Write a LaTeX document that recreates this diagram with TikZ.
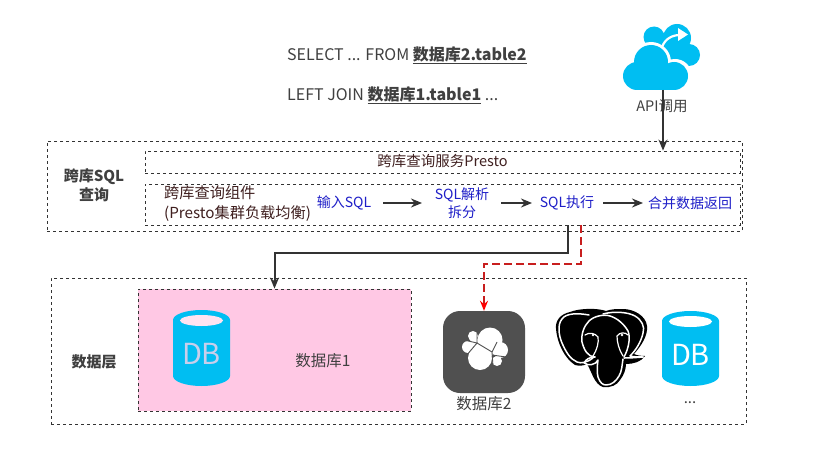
\documentclass[tikz,border=0pt]{standalone}
\usepackage{fontspec}
\setmainfont{Noto Sans CJK SC}
\usetikzlibrary{arrows.meta}
\definecolor{cloudblue}{RGB}{0,190,242}
\definecolor{textgrey}{RGB}{64,64,64}
\definecolor{linegrey}{RGB}{51,51,51}
\definecolor{stepblue}{RGB}{30,30,200}
\definecolor{servbrown}{RGB}{64,32,32}
\definecolor{pinkfill}{RGB}{255,200,228}
\definecolor{iconfill}{RGB}{80,80,80}
\definecolor{flowred}{RGB}{200,30,30}
\tikzset{
  dashbox/.style={draw=black!80,dashed,line width=0.8pt,inner sep=0pt},
  lab/.style={font=\fontsize{15}{18}\selectfont,text=textgrey,inner sep=0pt},
  capt/.style={font=\fontsize{15}{19}\selectfont\bfseries,text=textgrey,align=center,inner sep=0pt},
  steplab/.style={font=\fontsize{14}{18}\selectfont,text=stepblue,align=center,inner sep=0pt},
  sqltext/.style={font=\fontsize{16}{19}\selectfont,text=textgrey,anchor=west,inner sep=0pt},
  flow/.style={draw=linegrey,line width=2pt,-{Stealth[length=11pt,width=9pt]}},
  flowdash/.style={draw=flowred,line width=2.2pt,dash pattern=on 8pt off 4pt,-{Stealth[length=10pt,width=8pt,color=red]}},
  elephline/.style={white,line width=1.5pt,line join=round,line cap=round},
  dbtext/.style={font=\fontsize{29}{30}\selectfont,inner sep=0pt},
}
\begin{document}
\begin{tikzpicture}[x=1pt,y=-1pt]
  \useasboundingbox[fill=white] (0,0) rectangle (813,468);
  % query text
  \node[sqltext] (sqlfrom) at (287,55) {SELECT ... FROM \textbf{\underline{数据库2.table2}}};
  \node[sqltext] (sqljoin) at (287,95) {LEFT JOIN \textbf{\underline{数据库1.table1}} ...};
  % api cloud
  \fill[cloudblue] (654,37) circle (10.5);
  \fill[cloudblue] (677,38) circle (14);
  \fill[cloudblue] (689,55) circle (11);
  \fill[cloudblue] (670,50) circle (14);
  \fill[white] (638,76) circle (17);
  \fill[white] (651,62) circle (20);
  \fill[white] (675,76) circle (17);
  \fill[white] (638,72) rectangle (682,93);
  \fill[cloudblue] (637,76) circle (14);
  \fill[cloudblue] (651,62) circle (17);
  \fill[cloudblue] (674,76) circle (14);
  \fill[cloudblue] (637,72) rectangle (674,90);
  \draw[white,line width=2.2pt] (662,47) .. controls (665,39) and (672,35) .. (680,35);
  \fill[white] (678,28) -- (688,34.5) -- (678,41) -- cycle;
  \coordinate (apicloud) at (663,90);
  \node[lab,font=\fontsize{14.5}{18}\selectfont] (apilab) at (662,106) {API调用};
  % sql layer
  \node[dashbox,minimum width=695pt,minimum height=90pt] (sqlbox) at (394.5,186) {};
  \node[dashbox,minimum width=595pt,minimum height=22pt] (servbox) at (442.5,162) {};
  \node[dashbox,minimum width=595pt,minimum height=41pt] (compbox) at (442.5,204.5) {};
  \node[capt] (sqlcapt) at (94,185) {跨库SQL\\查询};
  \node[lab,text=servbrown,font=\fontsize{14.5}{18}\selectfont] (servlab) at (442.5,161) {跨库查询服务Presto};
  \node[lab,text=servbrown,align=left,anchor=west,font=\fontsize{15.2}{20}\selectfont] (complab) at (164,204) {跨库查询组件\\(Presto集群负载均衡)};
  \node[steplab] (inputsql) at (344,203) {输入SQL};
  \node[steplab] (parsesql) at (462,203) {SQL解析\\拆分};
  \node[steplab] (execsql) at (567,203) {SQL执行};
  \node[steplab] (mergesql) at (690,203) {合并数据返回};
  \coordinate (inputend) at (383,203);
  \coordinate (parseend) at (422,203);
  \coordinate (parsestart) at (501,203);
  \coordinate (execend) at (532,203);
  \coordinate (execstart) at (603,203);
  \coordinate (mergeend) at (643,203);
  \draw[flow] (inputend) -- (parseend);
  \draw[flow] (parsestart) -- (execend);
  \draw[flow] (execstart) -- (mergeend);
  % data layer
  \node[dashbox,minimum width=695pt,minimum height=146pt] (databox) at (398.5,351) {};
  \node[dashbox,fill=pinkfill,minimum width=273pt,minimum height=122pt] (db1box) at (274.5,350) {};
  \node[capt] (datacapt) at (94,362) {数据层};
  % first db
  \fill[cloudblue] (173,320) arc (180:360:28.5 and 10) -- (230,376) arc (0:180:28.5 and 10) -- cycle;
  \fill[pinkfill!50!white] (201.5,320.5) ellipse (21.5 and 5.5);
  \node[dbtext,text=pinkfill!75!cloudblue!85!white] (dbone) at (201.5,354) {DB};
  \node[lab,font=\fontsize{15.5}{18}\selectfont] (db1lab) at (323,361) {数据库1};
  % grey icon
  \node[fill=iconfill,rounded corners=17pt,minimum size=82pt,inner sep=0pt] (greyicon) at (484,352) {};
  \fill[white] (490,340) circle (12.5);
  \fill[white] (480,358) circle (12);
  \fill[white] (473,336) circle (5);
  \fill[white] (468,347) circle (6);
  \fill[white] (475,344) circle (6);
  \fill[white] (500,350) circle (8);
  \fill[white] (497,361) circle (5);
  \fill[white] (488,351) circle (6);
  \draw[iconfill,line width=0.9pt] (477,332) -- (477,343) -- (492,352) -- (493,366);
  \draw[iconfill,line width=0.9pt] (492,352) -- (497,342);
  \draw[iconfill,line width=0.9pt] (492,355) -- (506,357);
  \draw[iconfill,line width=0.9pt] (464,340) -- (477,343) -- (466,356);
  \node[lab,font=\fontsize{15.5}{18}\selectfont] (db2lab) at (484,404) {数据库2};
  % elephant
  \fill[black] (570,312) .. controls (561,314) and (555,320) .. (556,329)
    .. controls (557,342) and (564,358) .. (575,365)
    .. controls (579,366) and (583,366) .. (587,364)
    .. controls (592,372) and (594,384) .. (603,387)
    .. controls (611,388) and (617,385) .. (620,380)
    .. controls (624,375) and (626,369) .. (626,364)
    .. controls (633,364) and (641,362) .. (645,356)
    .. controls (640,356) and (636,355) .. (634,354)
    .. controls (641,346) and (648,336) .. (647,326)
    .. controls (646,316) and (634,309) .. (623,309)
    .. controls (617,309) and (611,309) .. (606,311)
    .. controls (598,308) and (580,308) .. (570,312) -- cycle;
  \draw[elephline]
    (589,315) .. controls (578,313) and (566,313) .. (562,319)
    .. controls (557,325) and (559,336) .. (562,343)
    .. controls (566,352) and (570,359) .. (577,362)
    .. controls (581,364) and (588,362) .. (593,358);
  \draw[elephline]
    (595,357) .. controls (590,357) and (586,359) .. (584,363)
    .. controls (588,366) and (596,365) .. (598,360)
    .. controls (597,367) and (597,373) .. (598,377)
    .. controls (600,383) and (603,385) .. (606,385)
    .. controls (612,385) and (616,381) .. (619,376)
    .. controls (622,371) and (622,365) .. (623,359);
  \draw[elephline]
    (595,357) .. controls (588,357) and (584,350) .. (582,342)
    .. controls (581,334) and (584,326) .. (589,321)
    .. controls (594,316) and (604,314) .. (610,316)
    .. controls (617,318) and (624,324) .. (628,331)
    .. controls (631,338) and (628,350) .. (624,357);
  \draw[elephline]
    (603,314) .. controls (614,311) and (628,312) .. (635,316)
    .. controls (642,320) and (645,327) .. (643,333)
    .. controls (641,342) and (636,350) .. (630,356)
    .. controls (634,357) and (639,357) .. (643,357);
  \draw[elephline] (624,358) .. controls (628,358) and (631,358) .. (643,357);
  \draw[elephline,line width=1.2pt]
    (585,335) .. controls (589,332) and (595,333) .. (598,337)
    .. controls (599,342) and (597,350) .. (593,356);
  \draw[elephline,line width=1.2pt]
    (628,335) .. controls (625,332) and (620,332) .. (617,336)
    .. controls (617,342) and (619,350) .. (623,356);
  \fill[white] (593,335) circle (1.3);
  \fill[white] (622,335) circle (1.3);
  % last db
  \fill[cloudblue] (662,321) arc (180:360:28.5 and 10) -- (719,376) arc (0:180:28.5 and 10) -- cycle;
  \fill[white] (690.5,321.5) ellipse (21.5 and 5.5);
  \node[dbtext,text=white] (dbtwo) at (690.5,355) {DB};
  \node[lab] (dotslab) at (690,403) {...};
  % connectors
  \draw[flow] (apicloud) -- (servbox.north -| apicloud);
  \coordinate (blackturn) at (568,253);
  \coordinate (redstart) at (581,225);
  \coordinate (redturn) at (581,264);
  \draw[flow] (compbox.south -| blackturn) -- (blackturn) -| (db1box.north);
  \draw[flowdash] (redstart) -- (redturn) -| (greyicon.north);
\end{tikzpicture}
\end{document}
